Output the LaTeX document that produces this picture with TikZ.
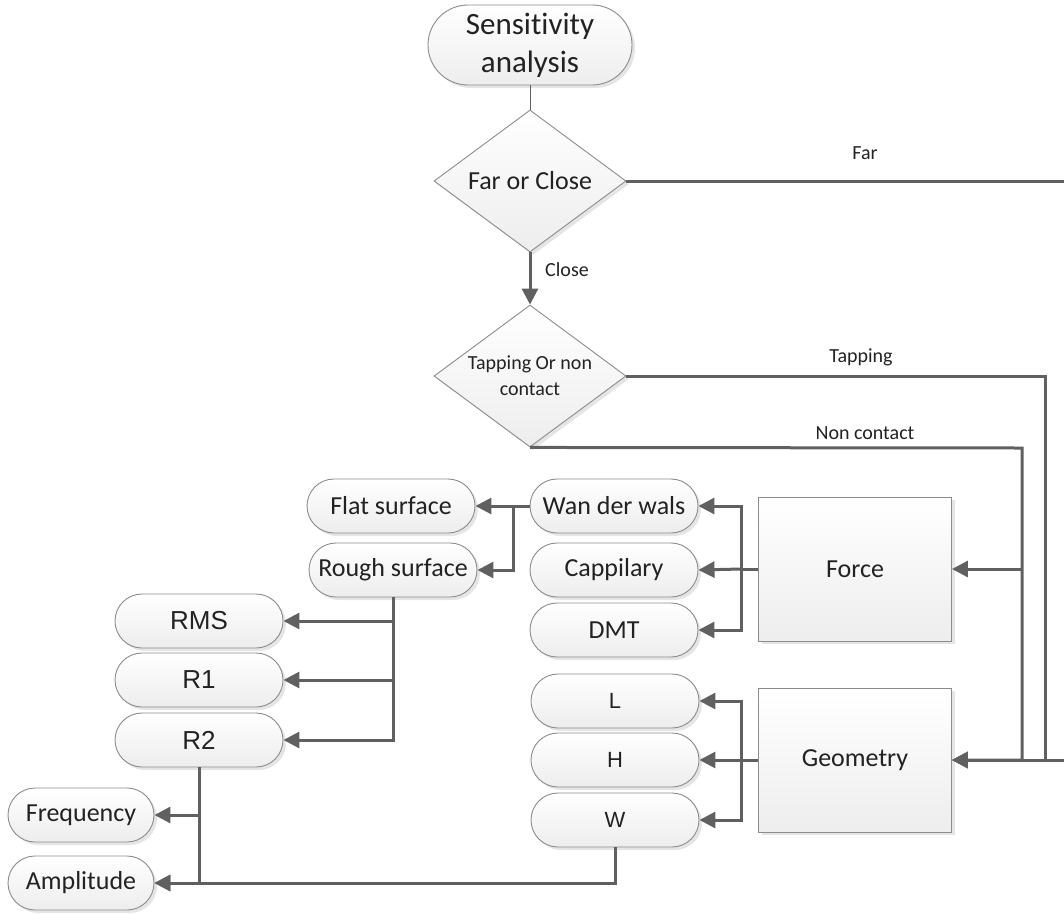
\documentclass[tikz,border=0pt]{standalone}
\usepackage{fontspec}
\setmainfont[Ligatures=NoCommon]{Carlito}
\newfontfamily\arialf{Liberation Sans}
\usetikzlibrary{shapes.misc,shapes.geometric,arrows.meta,shadows}
\definecolor{lc}{HTML}{606060}
\definecolor{bc}{HTML}{8C8C8C}
\definecolor{tc}{HTML}{222222}
\begin{document}
\begin{tikzpicture}[x=1pt,y=-1pt,
  base/.style={draw=bc, line width=0.9pt, top color=white, bottom color=black!7, text=tc,
    drop shadow={shadow xshift=3pt, shadow yshift=-3pt, fill=black!10, opacity=1}},
  pill/.style={base, rounded rectangle, minimum width=168pt, minimum height=54pt, inner sep=0pt,
    font=\fontsize{26}{30}\selectfont},
  apill/.style={pill, font=\arialf\fontsize{26}{30}\selectfont},
  spill/.style={pill, font=\arialf\fontsize{22}{26}\selectfont},
  dia/.style={base, diamond, aspect=1.35, minimum width=192pt, minimum height=142pt, inner sep=0pt, align=center},
  bigbox/.style={base, rectangle, minimum width=193pt, minimum height=144pt, font=\fontsize{26}{30}\selectfont},
  conn/.style={draw=lc, line width=3pt},
  arr/.style={conn, -{Triangle[length=16pt,width=16pt]}},
  elab/.style={text=tc, font=\fontsize{20}{24}\selectfont, inner sep=0pt}
]
\useasboundingbox (0,0) rectangle (1064,913);

% nodes
\node[base, rounded rectangle, minimum width=204pt, minimum height=80pt, inner sep=0pt, align=center,
  font=\fontsize{31}{38}\selectfont] (sens) at (530,45) {Sensitivity\\analysis};
\node[dia, font=\fontsize{26}{30}\selectfont] (fc) at (530,181) {Far or Close};
\node[dia, font=\fontsize{20}{26}\selectfont] (tnc) at (530,376) {Tapping Or non\\contact};

\node[bigbox] (force) at (855,569) {Force};
\node[bigbox] (geo) at (855,760) {Geometry};

\node[pill] (wan) at (614,506) {Wan der wals};
\node[pill] (cap) at (614,570) {Cappilary};
\node[pill] (dmt) at (614,630) {DMT};

\node[pill] (flat) at (391,506) {Flat surface};
\node[pill] (rough) at (393,570) {Rough surface};

\node[apill] (rms) at (199,621) {RMS};
\node[apill] (r1) at (199,680) {R1};
\node[apill] (r2) at (199,740) {R2};

\node[spill] (l) at (615,701) {L};
\node[spill] (h) at (615,760) {H};
\node[spill] (w) at (615,820) {W};

\node[pill, minimum width=146pt] (freq) at (81,815) {Frequency};
\node[pill, minimum width=146pt] (amp) at (81,883) {Amplitude};

% edge labels
\node[elab] (lclose) at (567,270) {Close};
\node[elab] (lfar) at (865,153) {Far};
\node[elab] (ltap) at (861,357) {Tapping};
\node[elab] (lnon) at (865,433) {Non contact};

% connectors
\draw[draw=lc, line width=1pt] (sens.south) -- (fc.north);
\draw[arr] (fc.south) -- (tnc.north);
\draw[arr] (fc.east) -- (1068,181) |- (geo.east);
\draw[arr] (tnc.east) -- (1045,376) |- (geo.east);
\draw[arr] (tnc.south) -- (1022,448) coordinate (nc) |- (geo.east);
\draw[arr] (nc |- force.east) -- (force.east);

\draw[conn] (force.west) -- (741,569) coordinate (fj);
\draw[arr] (fj) |- (wan.east);
\draw[arr] (fj) |- (dmt.east);
\draw[arr] (fj) -- (cap.east);

\draw[conn] (geo.west) -- (741,760) coordinate (gj);
\draw[arr] (gj) |- (l.east);
\draw[arr] (gj) |- (w.east);
\draw[arr] (gj) -- (h.east);

\draw[conn] (wan.west) -- (513,506) coordinate (wj);
\draw[arr] (wj) -- (flat.east);
\draw[arr] (wj) |- (rough.east);

\draw[arr] (rough.south) |- (r2.east);
\draw[arr] (rough.south |- rms.east) -- (rms.east);
\draw[arr] (rough.south |- r1.east) -- (r1.east);

\draw[arr] (r2.south) |- (amp.east);
\draw[arr] (r2.south |- freq.east) -- (freq.east);
\draw[arr] (w.south) |- (amp.east);
\end{tikzpicture}
\end{document}
